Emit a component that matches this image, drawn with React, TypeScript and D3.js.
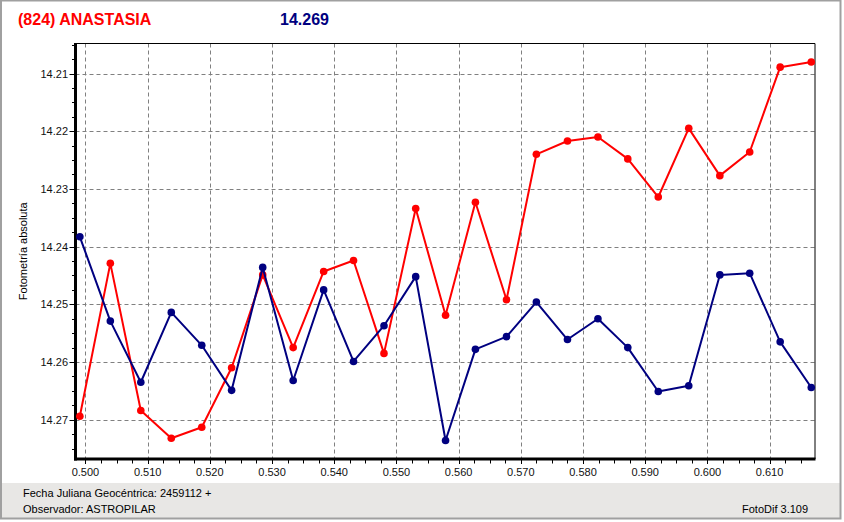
import * as d3 from "d3";

// fractional Julian date (offset from 2459112)
const JD = [
  0.4991, 0.504, 0.5089, 0.5138, 0.5187, 0.5235, 0.5285, 0.5334, 0.5383, 0.5431,
  0.548, 0.5531, 0.5579, 0.5627, 0.5677, 0.5725, 0.5775, 0.5824, 0.5872, 0.5921,
  0.597, 0.602, 0.6068, 0.6117, 0.6167,
];

// asteroid (red)
const RED = [
  14.2694, 14.2429, 14.2684, 14.2732, 14.2713, 14.261, 14.2449, 14.2575, 14.2443, 14.2424,
  14.2585, 14.2334, 14.2519, 14.2323, 14.2492, 14.224, 14.2217, 14.221, 14.2248, 14.2314,
  14.2195, 14.2277, 14.2236, 14.2089, 14.208,
];

// comparison (navy)
const BLUE = [
  14.2383, 14.2529, 14.2635, 14.2514, 14.2571, 14.2649, 14.2436, 14.2632, 14.2475, 14.2599,
  14.2537, 14.2452, 14.2736, 14.2578, 14.2556, 14.2496, 14.2561, 14.2525, 14.2575, 14.2651,
  14.2641, 14.2449, 14.2446, 14.2565, 14.2644,
];

const X_TICKS = [0.5, 0.51, 0.52, 0.53, 0.54, 0.55, 0.56, 0.57, 0.58, 0.59, 0.6, 0.61];
const Y_TICKS = [14.21, 14.22, 14.23, 14.24, 14.25, 14.26, 14.27];

const W = 844;
const H = 522;
const PLOT = { left: 75.5, right: 815, top: 43.5, bottom: 459 };
const FONT = "'Liberation Sans', Arial, sans-serif";

export default function App() {
  const x = d3.scaleLinear().domain([0.4984, 0.6173]).range([PLOT.left, PLOT.right]);
  const y = d3.scaleLinear().domain([14.2048, 14.2768]).range([PLOT.top, PLOT.bottom]);

  const xMinor = d3.range(0.4975, 0.6175, 0.0025).filter((v) => x(v) > PLOT.left + 1 && x(v) < PLOT.right);
  const yMinor = d3.range(14.205, 14.2775, 0.0025).filter((v) => y(v) > PLOT.top + 1 && y(v) < PLOT.bottom - 1);

  const line = d3
    .line<number>()
    .x((_d, i) => x(JD[i]))
    .y((d) => y(d));

  const series = [
    { values: RED, color: "#ff0000" },
    { values: BLUE, color: "#000080" },
  ];

  return (
    <svg
      width={W}
      height={H}
      style={{ position: "absolute", left: 0, top: 0, background: "#ffffff" }}
      fontFamily={FONT}
    >
      {/* footer panel */}
      <rect x={0} y={483} width={841} height={36} fill="#e8e7e5" />
      {/* window frame */}
      <rect x={1} y={0.5} width={839.5} height={518} fill="none" stroke="#a0a0a0" strokeWidth={2} />

      {/* title */}
      <text x={18} y={25} fill="#ff0000" fontSize={16} fontWeight="bold">
        (824) ANASTASIA
      </text>
      <text x={280} y={25} fill="#000080" fontSize={16} fontWeight="bold">
        14.269
      </text>

      {/* grid */}
      {Y_TICKS.map((t) => (
        <line
          key={"gy" + t}
          x1={PLOT.left}
          x2={PLOT.right}
          y1={Math.round(y(t)) + 0.5}
          y2={Math.round(y(t)) + 0.5}
          stroke="#808080"
          strokeDasharray="4,3"
        />
      ))}
      {X_TICKS.map((t) => (
        <line
          key={"gx" + t}
          x1={Math.round(x(t)) + 0.5}
          x2={Math.round(x(t)) + 0.5}
          y1={PLOT.top}
          y2={PLOT.bottom}
          stroke="#808080"
          strokeDasharray="4,3"
        />
      ))}

      {/* frame: thin top/right, thick axes */}
      <line x1={PLOT.left} x2={PLOT.right} y1={43.5} y2={43.5} stroke="#000" strokeWidth={1} />
      <line x1={PLOT.right} x2={PLOT.right} y1={43.5} y2={PLOT.bottom} stroke="#000" strokeWidth={1} />
      <line x1={PLOT.left} x2={PLOT.left} y1={43} y2={460.5} stroke="#000" strokeWidth={3} />
      <line x1={PLOT.left - 1.5} x2={PLOT.right + 0.5} y1={PLOT.bottom} y2={PLOT.bottom} stroke="#000" strokeWidth={3} />

      {/* y ticks */}
      {yMinor.map((t) => (
        <line key={"ym" + t} x1={PLOT.left - 3.5} x2={PLOT.left} y1={Math.round(y(t)) + 0.5} y2={Math.round(y(t)) + 0.5} stroke="#000" />
      ))}
      {Y_TICKS.map((t) => (
        <g key={"yt" + t}>
          <line x1={PLOT.left - 6} x2={PLOT.left} y1={Math.round(y(t)) + 0.5} y2={Math.round(y(t)) + 0.5} stroke="#000" />
          <text x={68} y={y(t) + 4} textAnchor="end" fontSize={11} fill="#111">
            {d3.format(".2f")(t)}
          </text>
        </g>
      ))}

      {/* x ticks */}
      {xMinor.map((t) => (
        <line key={"xm" + t} x1={Math.round(x(t)) + 0.5} x2={Math.round(x(t)) + 0.5} y1={PLOT.bottom} y2={PLOT.bottom + 4.5} stroke="#000" />
      ))}
      {X_TICKS.map((t) => (
        <g key={"xt" + t}>
          <line x1={Math.round(x(t)) + 0.5} x2={Math.round(x(t)) + 0.5} y1={PLOT.bottom} y2={PLOT.bottom + 5} stroke="#000" />
          <text x={x(t)} y={476} textAnchor="middle" fontSize={11} fill="#111">
            {d3.format(".3f")(t)}
          </text>
        </g>
      ))}

      {/* axis title */}
      <text
        transform={`translate(27,${(PLOT.top + PLOT.bottom) / 2}) rotate(-90)`}
        textAnchor="middle"
        fontSize={11}
        fill="#000"
      >
        Fotometría absoluta
      </text>

      {/* series */}
      {series.map((s, si) => (
        <g key={si}>
          <path d={line(s.values) ?? ""} fill="none" stroke={s.color} strokeWidth={2} strokeLinejoin="round" />
          {s.values.map((v, i) => (
            <circle key={i} cx={x(JD[i])} cy={y(v)} r={3.8} fill={s.color} />
          ))}
        </g>
      ))}

      {/* footer text */}
      <text x={23} y={497} fontSize={11} fill="#000">
        Fecha Juliana Geocéntrica: 2459112 +
      </text>
      <text x={23} y={513} fontSize={11} fill="#000">
        Observador: ASTROPILAR
      </text>
      <text x={742} y={513} fontSize={11} fill="#000">
        FotoDif 3.109
      </text>
    </svg>
  );
}
